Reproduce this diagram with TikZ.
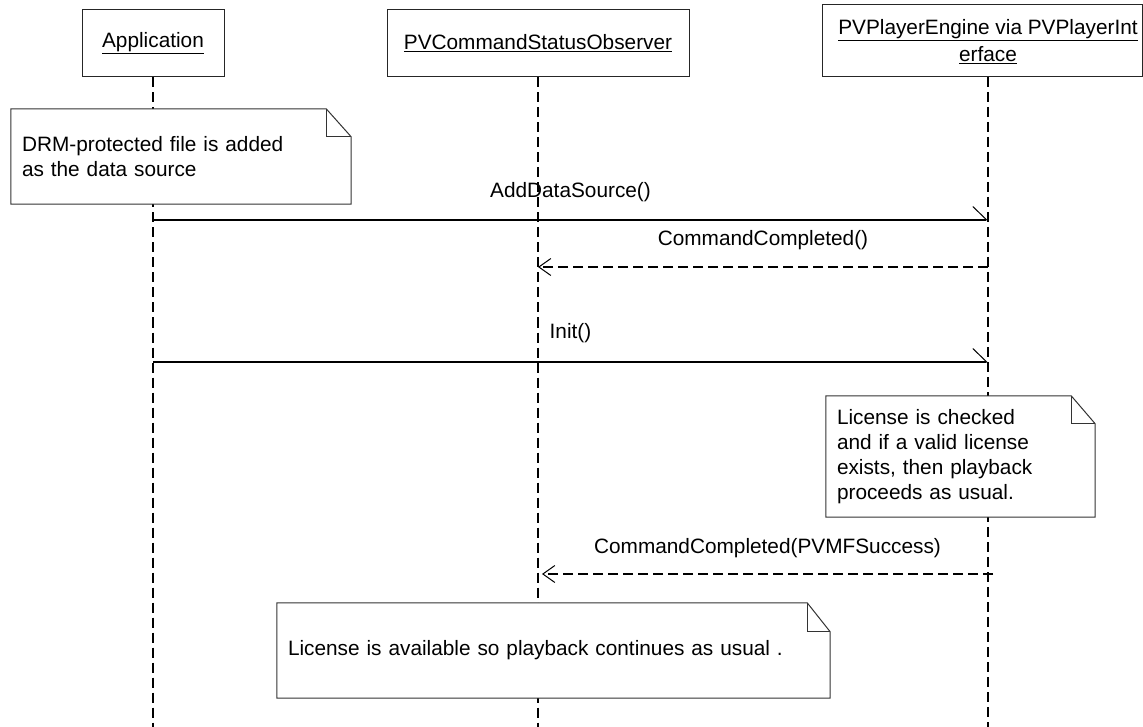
\documentclass[tikz,border=0pt]{standalone}
\usepackage{fontspec}
\setmainfont{Liberation Sans}
\usetikzlibrary{arrows.meta}
\begin{document}
\begin{tikzpicture}[x=1pt,y=-1pt,
  every node/.style={font=\fontsize{20.8}{25}\selectfont, text=black},
  objbox/.style={draw=black!85, line width=1pt, fill=white, inner sep=0pt},
  notebg/.style={fill=white, inner xsep=11pt, inner ysep=0pt, align=left},
  noteline/.style={draw=black!80, line width=1pt},
  lifeline/.style={line width=2pt, dash pattern=on 10pt off 5pt},
  callmsg/.style={line width=1.3pt, -{Straight Barb[harpoon, length=14pt, width=27pt, line width=1pt]}},
  retmsg/.style={line width=2pt, dash pattern=on 10pt off 5pt, -{Straight Barb[length=12pt, width=17pt, line width=1pt]}},
  msglabel/.style={inner sep=0pt}
]
\useasboundingbox (0,0) rectangle (1143,727);

% participants
\node[objbox, minimum width=142pt, minimum height=67pt] (app) at (153,43.5) {\underline{Application}};
\node[objbox, minimum width=302pt, minimum height=67pt] (obs) at (538,43.5) {\underline{PVCommandStatusObserver}};
\node[objbox, minimum width=320pt, minimum height=72pt] (eng) at (982,41) {};
\node[align=center, font=\fontsize{20.8}{27}\selectfont] (engT) at (988,41.5) {\underline{PVPlayerEngine via PVPlayerInt}\\\underline{erface}};

% lifelines
\coordinate (appEnd) at (153,727);
\coordinate (obsEnd) at (538,727);
\coordinate (engTop) at (988,77);
\coordinate (engEnd) at (988,727);
\draw[lifeline] (app.south) -- (appEnd);
\draw[lifeline] (obs.south) -- (obsEnd);
\draw[lifeline] (engTop) -- (engEnd);

% note 1
\node[notebg, text width=318pt, minimum height=95pt] (n1) at (181,156.5) {DRM-protected file is added\\as the data source};
\draw[noteline] (n1.north west) -- ([xshift=-25pt]n1.north east) -- ([yshift=-28pt]n1.north east) -- (n1.south east) -- (n1.south west) -- cycle;
\draw[noteline] ([xshift=-25pt]n1.north east) -- ([xshift=-25pt,yshift=-28pt]n1.north east) -- ([yshift=-28pt]n1.north east);

% note 2
\node[notebg, text width=247pt, minimum height=121pt] (n2) at (960.5,456.5) {License is checked\\and if a valid license\\exists, then playback\\proceeds as usual.};
\draw[noteline] (n2.north west) -- ([xshift=-24pt]n2.north east) -- ([yshift=-28pt]n2.north east) -- (n2.south east) -- (n2.south west) -- cycle;
\draw[noteline] ([xshift=-24pt]n2.north east) -- ([xshift=-24pt,yshift=-28pt]n2.north east) -- ([yshift=-28pt]n2.north east);

% note 3
\node[notebg, text width=531pt, minimum height=95pt] (n3) at (553.5,650.5) {License is available so playback continues as usual .};
\draw[noteline] (n3.north west) -- ([xshift=-23pt]n3.north east) -- ([yshift=-29pt]n3.north east) -- (n3.south east) -- (n3.south west) -- cycle;
\draw[noteline] ([xshift=-23pt]n3.north east) -- ([xshift=-23pt,yshift=-29pt]n3.north east) -- ([yshift=-29pt]n3.north east);

% messages
\coordinate (m1s) at (153,220); \coordinate (m1e) at (988,220);
\coordinate (m2s) at (988,267); \coordinate (m2e) at (538,267);
\coordinate (m3s) at (153,362); \coordinate (m3e) at (988,362);
\coordinate (m4s) at (993,574); \coordinate (m4e) at (542,574);

\draw[callmsg] (m1s) -- (m1e) node[msglabel, midway, yshift=28pt] (l1) {AddDataSource()};
\draw[retmsg] (m2s) -- (m2e) node[msglabel, midway, yshift=27pt] (l2) {CommandCompleted()};
\draw[callmsg] (m3s) -- (m3e) node[msglabel, midway, yshift=29pt] (l3) {Init()};
\draw[retmsg] (m4s) -- (m4e) node[msglabel, midway, yshift=26pt] (l4) {CommandCompleted(PVMFSuccess)};
\end{tikzpicture}
\end{document}
